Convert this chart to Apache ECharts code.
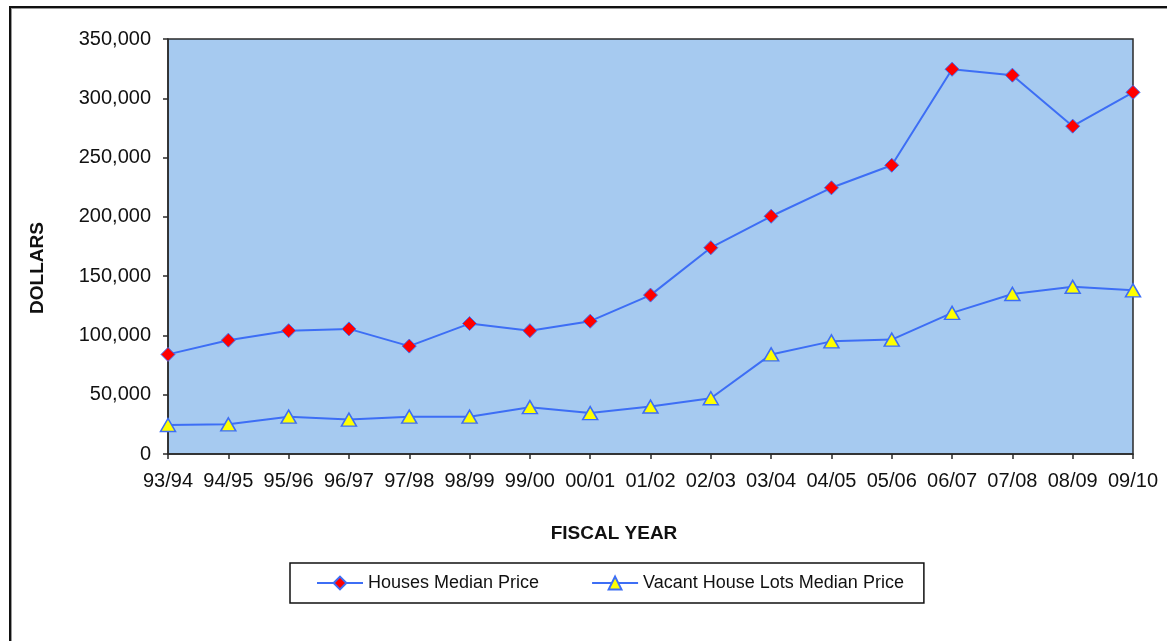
<!DOCTYPE html>
<html>
<head>
<meta charset="utf-8">
<script src="https://cdn.jsdelivr.net/npm/echarts@6/dist/echarts.min.js"></script>
<style>
  html, body { margin: 0; padding: 0; background: #fff; }
  #frame {
    position: absolute; left: 9px; top: 6px; width: 1158px; height: 635px;
    border-left: 2px solid #111; border-top: 2px solid #111;
    box-shadow: inset 1px 1px 0 #999;
  }
  #chart { position: absolute; left: 0; top: 0; width: 1167px; height: 641px; }
</style>
</head>
<body>
<div id="frame"></div>
<div id="chart"></div>
<script>
// Fiscal years on the category axis
const fiscalYears = ['93/94', '94/95', '95/96', '96/97', '97/98', '98/99', '99/00', '00/01',
  '01/02', '02/03', '03/04', '04/05', '05/06', '06/07', '07/08', '08/09', '09/10'];

// Median prices in dollars
const housesMedian = [84000, 96000, 104000, 105500, 91000, 110000, 104000, 112000,
  134000, 174000, 200500, 224500, 243500, 324500, 319500, 276500, 305000];
const vacantLotsMedian = [24500, 25000, 31500, 29000, 31500, 31500, 39500, 34500,
  40000, 47000, 84000, 95000, 96500, 119000, 135000, 141000, 138000];

// Value axis ticks
const yTicks = { min: 0, max: 350000, interval: 50000 };

const font = '"Liberation Sans", Arial, sans-serif';
const lineBlue = '#3D6EF5';

const chart = echarts.init(document.getElementById('chart'), null, { renderer: 'canvas' });

chart.setOption({
  animation: false,
  textStyle: { fontFamily: font },
  grid: {
    left: 168, top: 39, right: 34, bottom: 187,
    show: true, backgroundColor: '#A6CAF0', borderColor: '#2a2a2a', borderWidth: 1.5
  },
  xAxis: {
    type: 'category',
    data: fiscalYears,
    boundaryGap: false,
    axisLine: { lineStyle: { color: '#2a2a2a', width: 1.5 } },
    axisTick: { show: true, length: 5, interval: 0, alignWithLabel: true, lineStyle: { color: '#2a2a2a', width: 1.5 } },
    axisLabel: { color: '#111', fontSize: 20, fontFamily: font, margin: 17, interval: 0 },
    splitLine: { show: false }
  },
  yAxis: {
    type: 'value',
    min: yTicks.min, max: yTicks.max, interval: yTicks.interval,
    axisLine: { show: true, lineStyle: { color: '#2a2a2a', width: 1.5 } },
    axisTick: { show: true, length: 5, lineStyle: { color: '#2a2a2a', width: 1.5 } },
    axisLabel: {
      color: '#111', fontSize: 20, fontFamily: font, margin: 17,
      formatter: v => v.toLocaleString('en-US')
    },
    splitLine: { show: false }
  },
  legend: {
    left: 290, top: 563,
    orient: 'horizontal',
    padding: [11, 20, 11, 26],
    itemGap: 52,
    itemWidth: 46, itemHeight: 16,
    borderColor: '#111', borderWidth: 1.5,
    backgroundColor: '#fff',
    textStyle: { color: '#111', fontSize: 18, fontFamily: font },
    data: ['Houses Median Price', 'Vacant House Lots Median Price']
  },
  graphic: [
    {
      type: 'text', x: 38, y: 268, rotation: Math.PI / 2,
      style: { text: 'DOLLARS', font: 'bold 19px ' + font, fill: '#111', align: 'center', verticalAlign: 'middle' }
    },
    {
      type: 'text', x: 614, y: 534,
      style: { text: 'FISCAL YEAR', font: 'bold 19px ' + font, fill: '#111', align: 'center', verticalAlign: 'middle' }
    }
  ],
  series: [
    {
      name: 'Houses Median Price',
      type: 'line',
      data: housesMedian,
      symbol: 'diamond',
      symbolSize: 14,
      showAllSymbol: true,
      lineStyle: { color: lineBlue, width: 2 },
      itemStyle: { color: '#FF0000', borderColor: lineBlue, borderWidth: 1 }
    },
    {
      name: 'Vacant House Lots Median Price',
      type: 'line',
      data: vacantLotsMedian,
      symbol: 'triangle',
      symbolSize: [15, 13],
      showAllSymbol: true,
      lineStyle: { color: lineBlue, width: 2 },
      itemStyle: { color: '#FFFF00', borderColor: lineBlue, borderWidth: 1.5 }
    }
  ]
});
</script>
</body>
</html>
